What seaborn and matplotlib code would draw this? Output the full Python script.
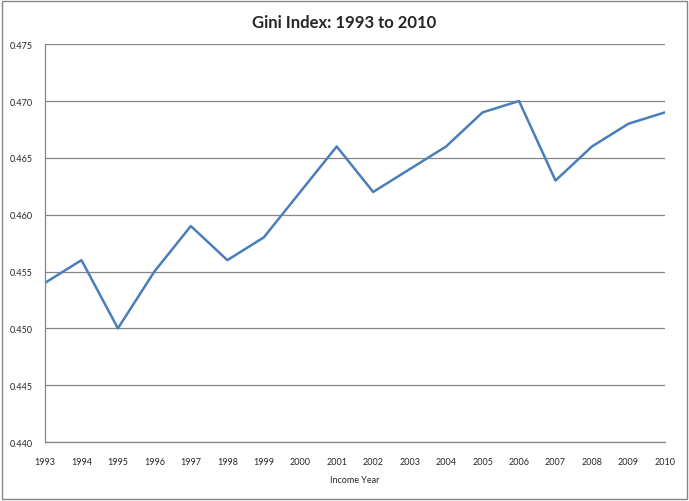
import matplotlib
matplotlib.use("Agg")
import matplotlib.pyplot as plt
import seaborn as sns
import pandas as pd
from matplotlib.patches import Rectangle

years = list(range(1993, 2011))
gini = [0.454, 0.456, 0.450, 0.455, 0.459, 0.456, 0.458, 0.462, 0.466,
        0.462, 0.464, 0.466, 0.469, 0.470, 0.463, 0.466, 0.468, 0.469]
yticks = [0.440, 0.445, 0.450, 0.455, 0.460, 0.465, 0.470, 0.475]

df = pd.DataFrame({"year": years, "gini": gini})

sns.set_style("white")
plt.rcParams["font.family"] = ["Lato", "DejaVu Sans"]

fig = plt.figure(figsize=(6.89, 5.02), dpi=100)
ax = fig.add_axes([0.0653, 0.1175, 0.8997, 0.7925])

sns.lineplot(data=df, x="year", y="gini", color="#4A7EBB", linewidth=1.8, ax=ax)

ax.set_xlim(1993, 2010)
ax.set_ylim(0.440, 0.475)
ax.set_yticks(yticks)
ax.set_yticklabels([f"{v:.3f}" for v in yticks], fontsize=6.5)
ax.set_xticks(years)
ax.set_xticklabels([str(y) for y in years], fontsize=6.5)
ax.yaxis.grid(True, color="#868686", linewidth=0.9)
ax.set_axisbelow(True)
for s in ["top", "right"]:
    ax.spines[s].set_visible(False)
for s in ["left", "bottom"]:
    ax.spines[s].set_color("#868686")
    ax.spines[s].set_linewidth(0.9)
ax.tick_params(axis="both", direction="out", length=3, width=0.8, color="#868686", pad=6)
ax.tick_params(axis="x", pad=8)

ax.set_xlabel("Income Year", fontsize=6.5, labelpad=6)
ax.set_ylabel("")
fig.suptitle("Gini Index: 1993 to 2010", fontsize=12, fontweight="bold", y=0.97)

fig.patches.append(Rectangle((0.003, 0.004), 0.994, 0.992, transform=fig.transFigure,
                             fill=False, edgecolor="#868686", linewidth=1.0))

fig.savefig("out.png", dpi=100)
